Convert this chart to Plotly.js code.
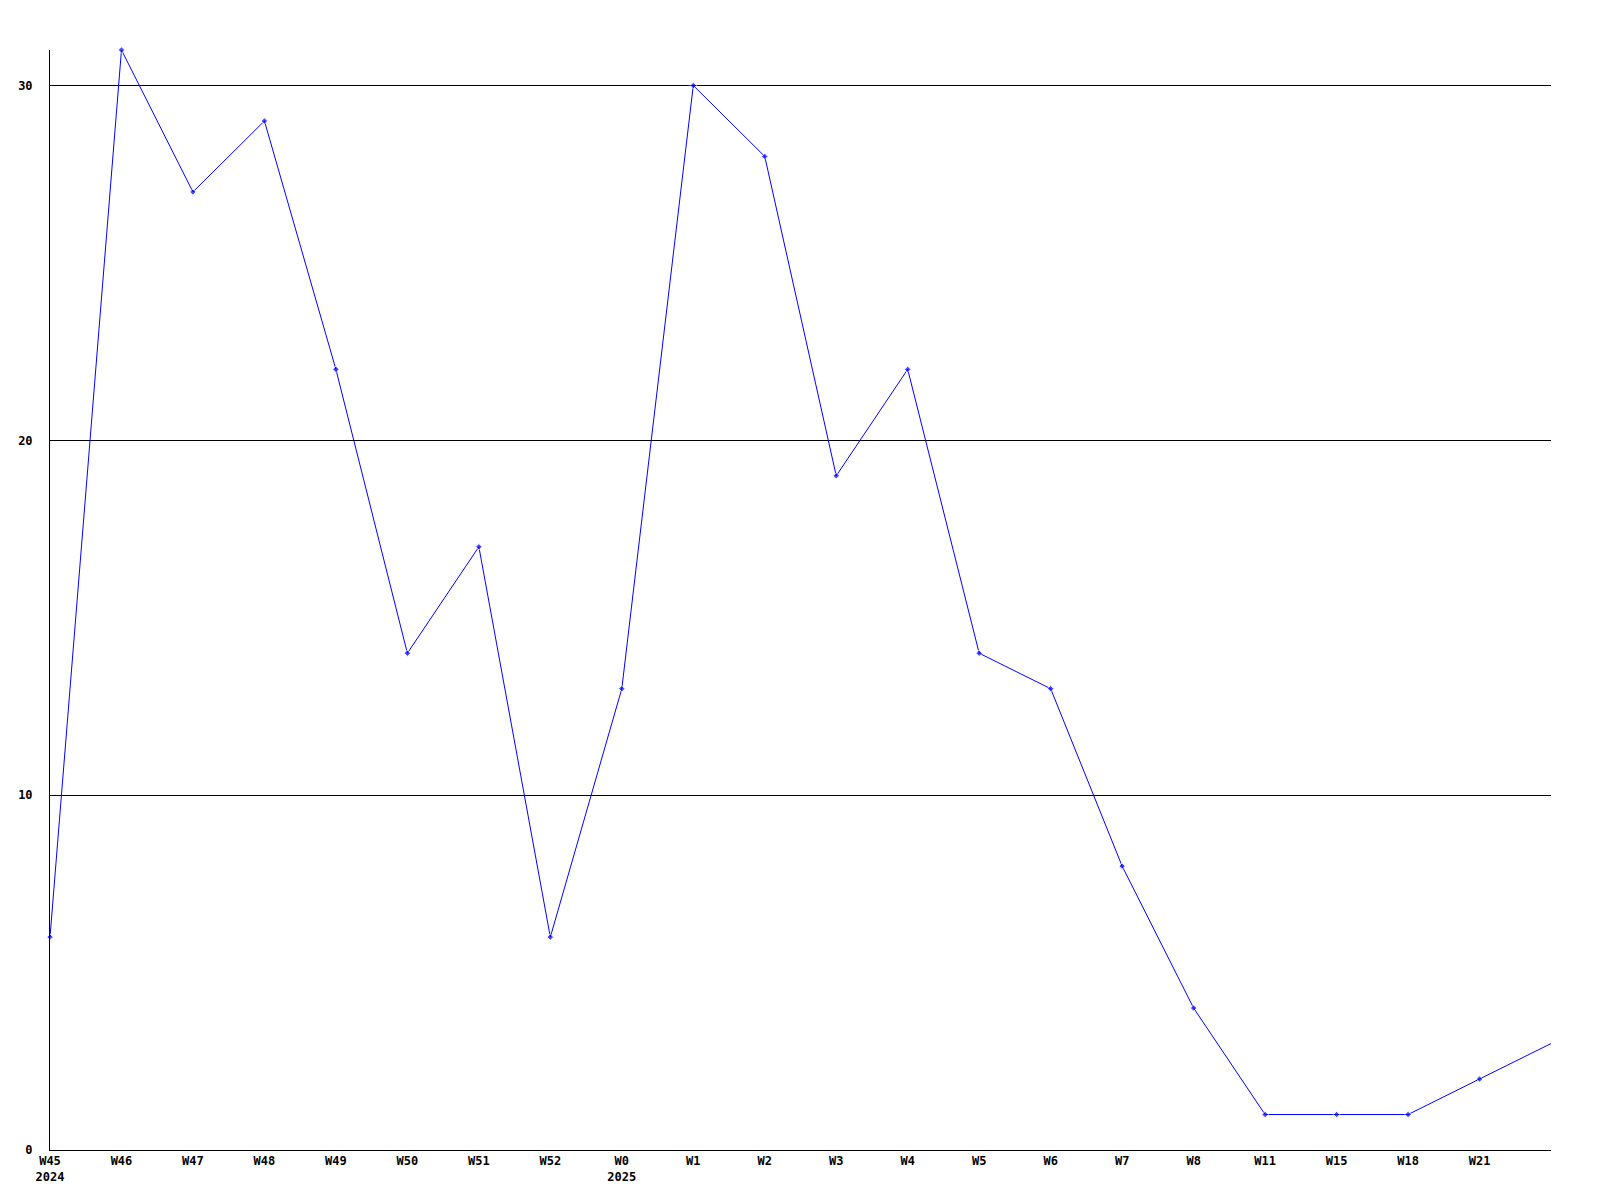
<!DOCTYPE html>
<html>
<head>
<meta charset="utf-8">
<script src="https://cdn.plot.ly/plotly-3.0.1.min.js"></script>
<style>html,body{margin:0;padding:0;background:#fff;}#chart{width:1600px;height:1200px;}</style>
</head>
<body>
<div id="chart"></div>
<script>
const weekLabels = ["W45<br>2024","W46","W47","W48","W49","W50","W51","W52","W0<br>2025","W1","W2","W3","W4","W5","W6","W7","W8","W11","W15","W18","W21",""];
const counts = [6,31,27,29,22,14,17,6,13,30,28,19,22,14,13,8,4,1,1,1,2,3];
const yTicks = [0,10,20,30];

const xIdx = weekLabels.map((_, i) => i);
const lastIdx = weekLabels.length - 1;
const font = {family: "DejaVu Sans Mono, monospace", size: 12, color: "#000", weight: "bold"};

Plotly.newPlot("chart", [{
  x: xIdx,
  y: counts,
  type: "scatter",
  mode: "lines+markers",
  line: {color: "#0000ff", width: 1},
  marker: {color: "#0000ff", size: xIdx.map(i => i === lastIdx ? 0 : 5), symbol: "diamond"},
  cliponaxis: false,
  hoverinfo: "skip"
}], {
  width: 1600, height: 1200,
  margin: {l: 50, r: 49, t: 50, b: 50},
  paper_bgcolor: "#fff", plot_bgcolor: "#fff",
  showlegend: false,
  font: font,
  xaxis: {
    range: [0, lastIdx],
    tickvals: xIdx.slice(0, lastIdx),
    ticktext: weekLabels.slice(0, lastIdx),
    showgrid: false, zeroline: false,
    showline: true, linecolor: "#000", linewidth: 1,
    ticks: "", tickfont: font, fixedrange: true
  },
  yaxis: {
    range: [0, 31],
    tickvals: yTicks,
    ticktext: yTicks.map(String),
    showgrid: true, gridcolor: "#000", gridwidth: 1,
    zeroline: false,
    showline: true, linecolor: "#000", linewidth: 1,
    ticks: "", ticklabelstandoff: 14, tickfont: font, fixedrange: true
  }
}, {staticPlot: true});
</script>
</body>
</html>
